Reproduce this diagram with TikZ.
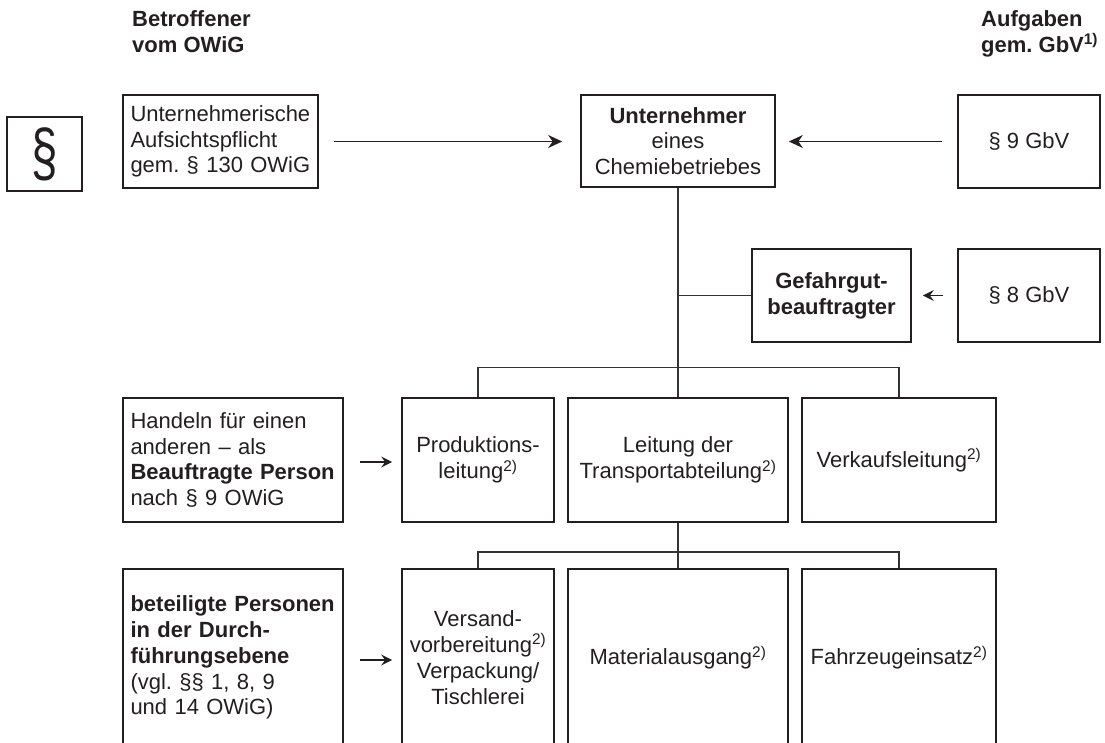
\documentclass[tikz,border=0pt]{standalone}
\usepackage{fontspec}
\setmainfont{Liberation Sans}
\usetikzlibrary{arrows.meta}
\definecolor{ink}{HTML}{231F20}
\definecolor{lin}{HTML}{333333}
\begin{document}
\frenchspacing
\begin{tikzpicture}[x=1pt,y=-1pt,
  font=\fontsize{22}{25.8}\selectfont\frenchspacing, text=ink,
  box/.style={draw=ink, line width=1.7pt, inner sep=0pt, align=center},
  lbox/.style={draw=ink, line width=1.7pt, inner xsep=7.5pt, inner ysep=0pt, align=left},
  conn/.style={draw=lin, line width=1.3pt},
  arr/.style={draw=ink, line width=1.3pt, -{Stealth[length=14pt,width=13pt,inset=4.5pt]}},
  sarr/.style={draw=ink, line width=1.3pt, -{Stealth[length=11pt,width=11pt,inset=4pt]}},
  head/.style={font=\bfseries\fontsize{22}{25.5}\selectfont, align=left, inner sep=0pt, anchor=base west},
]
\useasboundingbox (0,0) rectangle (1105,742);
\clip (0,0) rectangle (1105,742);

\node[draw=ink, line width=2.6pt, minimum width=75pt, minimum height=74pt, inner sep=0pt,
  font=\fontsize{66}{66}\selectfont] (para) at (44.5,154) {\scalebox{0.72}[1]{§}};

\node[head] (hl) at (132,52) {Betroffener\\vom OWiG};
\node[head] (hr) at (981,52) {Aufgaben\\gem. GbV\textsuperscript{1)}};

\node[lbox, text width=180pt, minimum height=93pt] (aufs) at (220.5,141.5)
  {Unternehmerische\\Aufsichtspflicht\\gem. § 130 OWiG};
\node[box, minimum width=194pt, minimum height=92pt] (unt) at (678,141)
  {\textbf{Unternehmer}\\eines\\Chemiebetriebes};
\node[box, minimum width=142pt, minimum height=93pt] (p9) at (1029,141.5) {§ 9 GbV};
\node[box, minimum width=159pt, minimum height=93pt, font=\bfseries\fontsize{22}{25.8}\selectfont] (gef) at (831.5,295.5)
  {Gefahrgut-\\beauftragter};
\node[box, minimum width=142pt, minimum height=93pt] (p8) at (1029,295.5) {§ 8 GbV};

\node[lbox, text width=205pt, minimum height=124pt] (hand) at (233,460)
  {Handeln für einen\\anderen – als\\\textbf{Beauftragte Person}\\nach § 9 OWiG};
\node[box, minimum width=152pt, minimum height=124pt] (prod) at (478,460)
  {Produktions-\\leitung\textsuperscript{2)}};
\node[box, minimum width=220pt, minimum height=124pt] (leit) at (678,460)
  {Leitung der\\Transportabteilung\textsuperscript{2)}};
\node[box, minimum width=194pt, minimum height=124pt] (verk) at (899,460)
  {Verkaufsleitung\textsuperscript{2)}};

\node[lbox, text width=205pt, minimum height=177pt] (bet) at (233,657.5)
  {\textbf{beteiligte Personen}\\\textbf{in der Durch-}\\\textbf{führungsebene}\\(vgl. §§ 1, 8, 9\\und 14 OWiG)};
\node[box, minimum width=152pt, minimum height=177pt] (vers) at (478,657.5)
  {Versand-\\vorbereitung\textsuperscript{2)}\\Verpackung/\\Tischlerei};
\node[box, minimum width=220pt, minimum height=177pt] (mat) at (678,657.5)
  {Materialausgang\textsuperscript{2)}};
\node[box, minimum width=194pt, minimum height=177pt] (fahr) at (899,657.5)
  {Fahrzeugeinsatz\textsuperscript{2)}};

\coordinate (b1) at (678,367.5);
\coordinate (b2) at (678,552);
\draw[conn] (unt.south) -- (leit.north);
\draw[conn] (prod.north) |- (b1) -| (verk.north);
\draw[conn] (gef.west) -- (gef.west -| unt.south);
\draw[conn] (leit.south) -- (mat.north);
\draw[conn] (vers.north) |- (b2) -| (fahr.north);

\draw[arr, shorten <=15pt, shorten >=18pt] (aufs.east) -- (aufs.east -| unt.west);
\draw[arr, shorten <=15pt, shorten >=13pt] (p9.west) -- (p9.west -| unt.east);
\draw[sarr, shorten <=14pt, shorten >=11pt] (p8.west) -- (gef.east);
\draw[sarr, shorten <=16pt, shorten >=9pt] ([yshift=-2pt]hand.east) -- ([yshift=-2pt]hand.east -| prod.west);
\draw[sarr, shorten <=16pt, shorten >=9pt] ([yshift=-2.5pt]bet.east) -- ([yshift=-2.5pt]bet.east -| vers.west);
\end{tikzpicture}
\end{document}
